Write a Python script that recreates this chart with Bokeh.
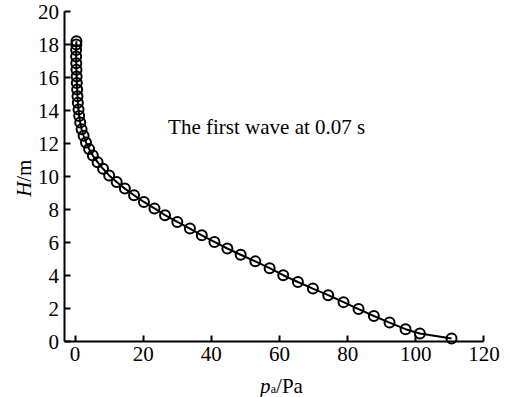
from bokeh.plotting import figure
from bokeh.models import Range1d, FixedTicker, Label
from bokeh.embed import file_html
from bokeh.resources import INLINE
import math

# Air pressure profile along the height for the first wave at 0.07 s
pressure_pa = [110.5, 101.2, 97.0, 92.3, 87.7, 83.2, 78.8, 74.3, 69.8, 65.4,
               61.1, 57.1, 52.9, 48.6, 44.7, 40.9, 37.2, 33.7, 30.0, 26.4,
               23.3, 20.2, 17.3, 14.6, 12.2, 10.0, 8.2, 6.6, 5.2, 4.1,
               3.2, 2.5, 1.9, 1.5, 1.2, 1.0, 0.8, 0.7, 0.6, 0.5,
               0.45, 0.4, 0.35, 0.3, 0.3, 0.35, 0.4]
height_m = [0.18, 0.49, 0.75, 1.15, 1.55, 1.97, 2.39, 2.81, 3.21, 3.61,
            4.02, 4.45, 4.86, 5.26, 5.64, 6.04, 6.44, 6.85, 7.25, 7.66,
            8.07, 8.46, 8.87, 9.27, 9.67, 10.07, 10.47, 10.87, 11.27, 11.67,
            12.07, 12.47, 12.87, 13.27, 13.67, 14.07, 14.47, 14.87, 15.27, 15.67,
            16.07, 16.47, 16.87, 17.27, 17.67, 18.0, 18.2]

x_ticks = [0, 20, 40, 60, 80, 100, 120]
y_ticks = [0, 2, 4, 6, 8, 10, 12, 14, 16, 18, 20]

SERIF = "Liberation Serif"
FS = "21px"

# The frame spans the whole canvas; the axes are pinned at x=-3 and y=0 so
# that the axis titles can sit in the margin area as ordinary labels.
p = figure(width=511, height=397, output_backend="svg", toolbar_location=None,
           x_range=Range1d(-21.9, 128.1), y_range=Range1d(-3.39, 20.67),
           min_border=0, min_border_left=0, min_border_right=0,
           min_border_top=0, min_border_bottom=0)
p.outline_line_color = None
p.xgrid.visible = False
p.ygrid.visible = False

for ax in (p.xaxis[0], p.yaxis[0]):
    ax.axis_line_color = "black"
    ax.axis_line_width = 2
    ax.major_tick_line_color = "black"
    ax.major_tick_line_width = 2
    ax.major_tick_in = 6
    ax.major_tick_out = 0
    ax.minor_tick_line_color = None
    ax.major_label_text_font = SERIF
    ax.major_label_text_font_size = FS
    ax.major_label_text_color = "black"

p.xaxis.ticker = FixedTicker(ticks=x_ticks)
p.yaxis.ticker = FixedTicker(ticks=y_ticks)
p.xaxis.fixed_location = 0
p.yaxis.fixed_location = -3
p.xaxis.bounds = (-3, 120)
p.yaxis.bounds = (0, 20)
p.xaxis.major_label_standoff = 5
p.yaxis.major_label_standoff = 6

p.line(pressure_pa, height_m, line_color="black", line_width=2)
p.scatter(pressure_pa, height_m, marker="circle", size=10,
          line_color="black", line_width=2, fill_alpha=0)

p.add_layout(Label(x=27.3, y=13.0, text="The first wave at 0.07 s",
                   text_font=SERIF, text_font_size=FS, text_baseline="middle",
                   text_color="black"))


def title_piece(x, y, text, size=FS, italic=False, angle=0.0):
    p.add_layout(Label(x=x, y=y, text=text, text_font=SERIF,
                       text_font_size=size,
                       text_font_style="italic" if italic else "normal",
                       text_baseline="alphabetic", angle=angle,
                       text_color="black"))


# x axis title: p (italic) with subscript a, then /Pa
title_piece(54.3, -2.72, "p", italic=True)
title_piece(57.4, -2.90, "a", size="12px")
title_piece(59.0, -2.72, "/Pa")

# y axis title: H (italic) / m, reading upwards
title_piece(-15.0, 8.77, "H", italic=True, angle=math.pi / 2)
title_piece(-15.0, 9.68, "/m", angle=math.pi / 2)

open("out.html", "w").write(file_html(p, INLINE))
